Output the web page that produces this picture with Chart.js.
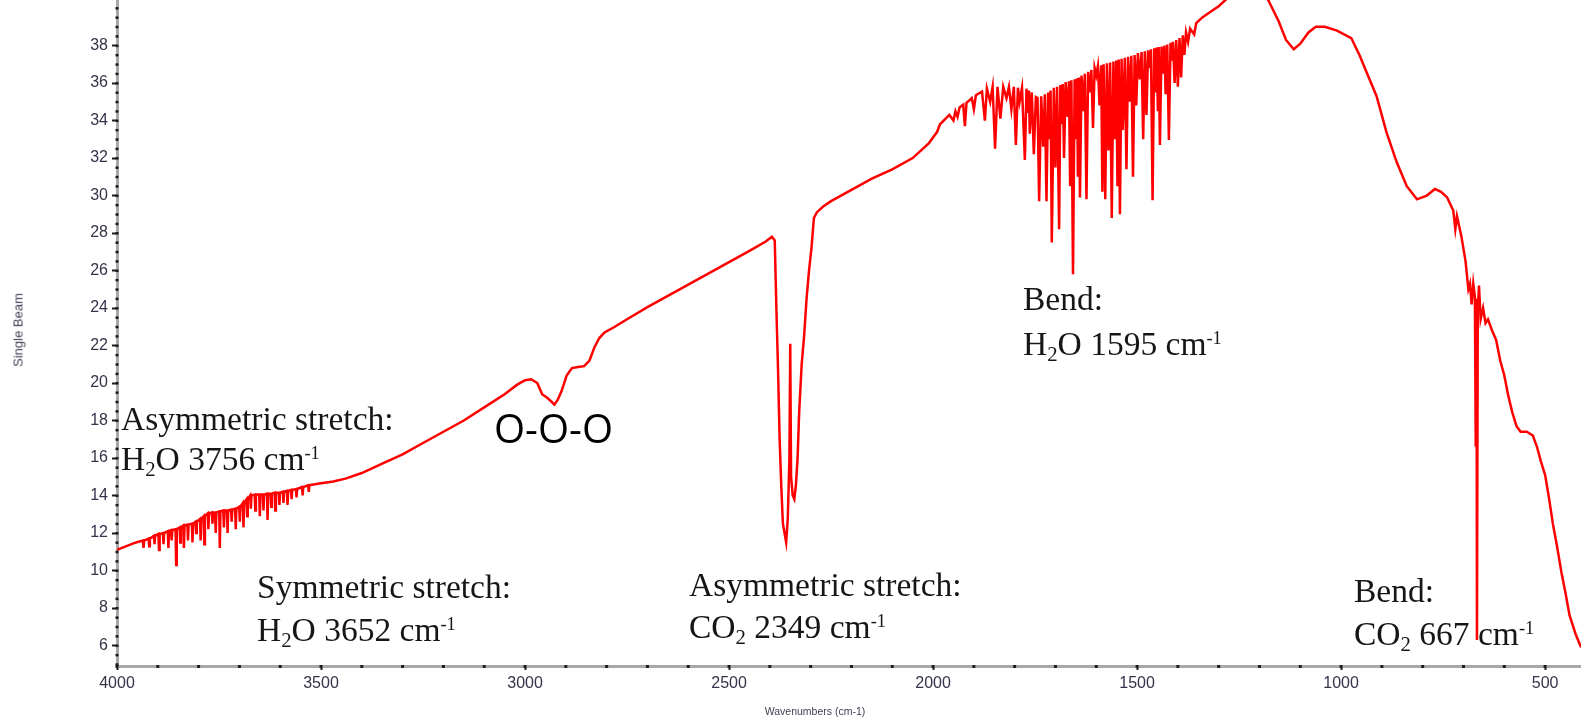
<!DOCTYPE html>
<html>
<head>
<meta charset="utf-8">
<title>Single Beam spectrum</title>
<script src="https://cdn.jsdelivr.net/npm/chart.js@4.4.0/dist/chart.umd.min.js"></script>
<style>
    html, body { margin: 0; padding: 0; background: #fff; }
    #wrap { position: relative; width: 1581px; height: 722px; overflow: hidden; }
    .note { position: absolute; font-family: "Liberation Serif", "Times New Roman", serif; font-size: 33.5px; line-height: 42px; color: #161616; white-space: nowrap; }
    .note sub { font-size: 0.62em; vertical-align: -0.28em; line-height: 0; }
    .note sup { font-size: 0.55em; vertical-align: 0.62em; line-height: 0; }
    .ooo { position: absolute; font-family: "Open Sans", sans-serif; font-size: 40px; line-height: 42px; color: #000; white-space: nowrap; }
    .axis-title { position: absolute; font-family: "Liberation Sans", Arial, sans-serif; color: #404058; white-space: nowrap; }
</style>
</head>
<body>
<div id="wrap">
    <canvas id="spectrumChart"></canvas>

    <div class="axis-title" style="left:18px; top:330px; font-size:13px; transform: translate(-50%, -50%) rotate(-90deg);">Single Beam</div>
    <div class="axis-title" style="left:815px; top:711px; font-size:10.5px; transform: translate(-50%, -50%);">Wavenumbers (cm-1)</div>

    <div class="note" style="left:121px; top:398px;">Asymmetric stretch:</div>
    <div class="note" style="left:121px; top:438px;">H<sub>2</sub>O 3756 cm<sup>-1</sup></div>

    <div class="note" style="left:257px; top:566px;">Symmetric stretch:</div>
    <div class="note" style="left:257px; top:609px;">H<sub>2</sub>O 3652 cm<sup>-1</sup></div>

    <div class="note" style="left:689px; top:564px;">Asymmetric stretch:</div>
    <div class="note" style="left:689px; top:606px;">CO<sub>2</sub> 2349 cm<sup>-1</sup></div>

    <div class="note" style="left:1023px; top:278px;">Bend:</div>
    <div class="note" style="left:1023px; top:323px;">H<sub>2</sub>O 1595 cm<sup>-1</sup></div>

    <div class="note" style="left:1354px; top:570px;">Bend:</div>
    <div class="note" style="left:1354px; top:613px;">CO<sub>2</sub> 667 cm<sup>-1</sup></div>

    <div class="ooo" style="left:494px; top:407px;">O-O-O</div>
</div>

<script>
// water stretch band, 4000-3400 (each absorption line: top, bottom, top)
var stretchWn = [4000, 3960, 3945,
    3936.5, 3935, 3933.5,  3922.5, 3921, 3919.5,  3909.5, 3908, 3906.5,  3898.5, 3897, 3895.5,
    3887.5, 3886, 3884.5,  3875.5, 3874, 3872.5,  3867.5, 3866, 3864.5,  3856.5, 3855, 3853.5,
    3846.5, 3845, 3843.5,  3837.5, 3836, 3834.5,  3827.5, 3826, 3824.5,  3816.5, 3815, 3813.5,
    3807.5, 3806, 3804.5,  3796.5, 3795, 3793.5,  3787.5, 3786, 3784.5,  3777.5, 3776, 3774.5,
    3767.5, 3766, 3764.5,  3759.5, 3758, 3756.5,  3749.5, 3748, 3746.5,  3739.5, 3738, 3736.5,
    3730.5, 3729, 3727.5,  3720.5, 3719, 3717.5,  3710.5, 3709, 3707.5,  3700.5, 3699, 3697.5,
    3691.5, 3690, 3688.5,  3682.5, 3681, 3679.5,  3673.5, 3672, 3670.5,  3662.5, 3661, 3659.5,
    3651.5, 3650, 3648.5,  3642.5, 3641, 3639.5,  3632.5, 3631, 3629.5,  3623.5, 3622, 3620.5,
    3613.5, 3612, 3610.5,  3603.5, 3602, 3600.5,  3593.5, 3592, 3590.5,  3583.5, 3582, 3580.5,
    3573.5, 3572, 3570.5,  3561.5, 3560, 3558.5,  3546.5, 3545, 3543.5,  3531.5, 3530, 3528.5,
    3515, 3500, 3470, 3440, 3400];
var stretchBeam = [11.1, 11.45, 11.55,
    11.6, 11.2, 11.6,  11.7, 11.3, 11.7,  11.85, 11.4, 11.85,  11.95, 11.1, 11.95,
    12.0, 11.4, 12.0,  12.1, 11.2, 12.1,  12.15, 11.6, 12.15,  12.2, 10.3, 12.2,
    12.3, 11.5, 12.3,  12.4, 11.2, 12.4,  12.45, 11.6, 12.45,  12.5, 11.5, 12.5,
    12.6, 12.0, 12.6,  12.75, 11.6, 12.75,  12.9, 11.4, 12.9,  13.05, 12.2, 13.05,
    13.1, 12.5, 13.1,  13.1, 12.0, 13.1,  13.15, 11.2, 13.15,  13.2, 12.3, 13.2,
    13.2, 12.0, 13.2,  13.25, 12.6, 13.25,  13.3, 12.2, 13.3,  13.4, 12.6, 13.4,
    13.6, 12.3, 13.6,  13.8, 12.9, 13.8,  14.0, 13.3, 14.0,  14.05, 13.2, 14.05,
    14.05, 12.9, 14.05,  14.05, 13.2, 14.05,  14.1, 12.7, 14.1,  14.1, 13.4, 14.1,
    14.15, 13.2, 14.15,  14.15, 13.5, 14.15,  14.2, 13.6, 14.2,  14.25, 13.5, 14.25,
    14.3, 13.8, 14.3,  14.35, 13.9, 14.35,  14.45, 14.0, 14.45,  14.55, 14.2, 14.55,
    14.6, 14.65, 14.75, 14.9, 15.2];

// smooth rise with the O-O-O dip, 3350-2395
var midWn = [3350,3300,3250,3200,3150,3100,3050,3020,3000,2985,2970,2958,2945,2935,2928,2920,2910,2898,2885,2870,
    2855,2842,2830,2818,2805,2780,2750,2700,2650,2600,2550,2500,2450,2410,2395];
var midBeam = [15.7,16.2,16.8,17.4,18.0,18.7,19.4,19.9,20.15,20.2,20.0,19.4,19.2,19.0,18.85,19.1,19.6,20.4,20.8,20.85,
    20.9,21.2,21.9,22.4,22.7,23.0,23.4,24.05,24.65,25.25,25.85,26.45,27.05,27.55,27.8];

// CO2 asymmetric stretch, 2388-1990
var co2Wn = [2388,2384,2380,2376,2372,2368,2364,2360,2356,2352,2350,2348,2344,2340,2336,2332,2328,2322,2316,2310,
    2304,2298,2292,2285,2270,2250,2200,2150,2100,2050,2010,1990];
var co2Beam = [27.6,24.0,20.8,17.0,14.5,12.5,12.0,11.5,12.8,16.0,22.1,15.0,14.0,13.8,14.6,16.0,18.5,21.0,22.5,24.5,
    26.0,27.2,28.8,29.1,29.4,29.7,30.3,30.9,31.4,32.0,32.8,33.4];

// water bend band, 1983-1355
var bendWn = [1983,1960,1950,1945,1940,1935,1926,1922,1918,1905,
    1900,1895,1880,1873,1868,1860,1854,1848,1842,1835,
    1828,1820,1814,1808,1802,1797,1792,1788,1782,1775,
    1771,1768,1765,1763,1758,1753,1748,1744,1740,1735,
    1730,1726,1722,1718,1715,1712,1709,1704,1700,1696,
    1691,1688,1685,1682,1679,1675,1670,1667,1664,1661,
    1657,1653,1650,1647,1645,1642,1640,1636,1632,1628,
    1624,1620,1616,1612,1608,1604,1600,1596,1592,1588,
    1585,1582,1578,1574,1570,1566,1562,1558,1554,1551,
    1548,1545,1542,1538,1535,1530,1526,1522,1518,1514,
    1510,1506,1502,1498,1493,1489,1485,1481,1477,1473,
    1470,1466,1462,1458,1455,1452,1449,1447,1444,1440,
    1436,1433,1430,1426,1422,1418,1415,1412,1408,1404,
    1400,1396,1392,1388,1384,1380,1375,1370,1360,1355];
var bendBeam = [33.8,34.3,34.0,34.5,34.2,34.7,34.85,33.7,34.95,35.2,
    34.6,35.35,35.55,34.0,35.7,35.0,35.8,32.5,35.8,34.1,
    35.8,35.2,35.8,34.6,35.8,32.7,35.75,35.0,35.75,31.9,
    35.7,34.4,35.6,33.3,35.5,32.2,35.25,35.2,29.7,35.3,
    32.6,35.4,29.7,35.5,33.0,35.6,27.5,35.75,31.5,35.8,
    28.2,35.9,33.8,35.95,32.0,36.05,34.2,36.1,30.5,36.15,
    25.8,36.2,33.0,36.25,31.0,36.3,29.9,36.4,34.5,36.5,
    29.8,36.6,35.5,36.7,33.6,36.8,36.4,36.9,34.8,36.95,
    30.2,37.0,29.8,37.05,32.4,37.1,28.8,37.15,33.0,37.2,
    30.5,37.25,29.0,37.3,33.5,37.35,31.4,37.4,35.0,37.45,
    31.0,37.5,34.8,37.6,36.2,37.65,33.0,37.7,34.3,37.75,
    36.8,37.8,29.75,37.85,35.5,37.9,34.5,37.92,32.7,37.95,
    36.5,38.0,35.4,38.05,32.96,38.15,37.2,38.2,36.0,38.3,
    35.8,38.4,36.3,38.55,37.5,38.7,38.2,38.9,38.6,39.2];

// peak, fall off and CO2 bend, 1340-412
var lowWn = [1340,1320,1300,1280,1250,1220,1190,1178,1153,1135,
    1116,1100,1080,1062,1040,1010,975,955,938,913,
    889,864,839,814,790,770,755,740,725,720,
    716,705,695,688,684,680,676,672,670,668,
    667,665,662,658,652,646,640,630,620,610,
    600,590,580,570,560,545,530,520,510,500,
    490,481,470,460,450,440,425,412];
var lowBeam = [39.5,39.8,40.1,40.5,41.0,41.0,40.8,40.4,39.3,38.3,
    37.8,38.1,38.7,39.0,39.0,38.8,38.4,37.5,36.6,35.3,
    33.4,31.8,30.5,29.8,30.0,30.35,30.2,29.9,29.2,28.2,
    28.9,27.8,26.5,25.0,25.3,24.2,25.3,24.6,16.6,24.5,
    6.3,23.8,25.2,23.4,24.0,23.2,23.4,22.8,22.3,21.2,
    20.4,19.3,18.4,17.7,17.4,17.4,17.2,16.6,15.8,15.1,
    13.8,12.5,11.2,9.9,8.8,7.6,6.6,5.9];

var xTickValues = [4000, 3500, 3000, 2500, 2000, 1500, 1000, 500];
var yTickValues = [6, 8, 10, 12, 14, 16, 18, 20, 22, 24, 26, 28, 30, 32, 34, 36, 38];
var xMinorStep = 100;
var yMinorStep = 0.5;

document.addEventListener("DOMContentLoaded", function() {
    var wavenumbers = stretchWn.concat(midWn, co2Wn, bendWn, lowWn);
    var singleBeam = stretchBeam.concat(midBeam, co2Beam, bendBeam, lowBeam);
    var points = wavenumbers.map(function(w, i) { return { x: w, y: singleBeam[i] }; });

    // little dots along both axis lines
    var minorTicks = {
        id: "minorTicks",
        afterDraw: function(chart) {
            var ctx = chart.ctx;
            var xs = chart.scales.x, ys = chart.scales.y;
            var area = chart.chartArea;
            ctx.save();
            ctx.fillStyle = "#1c1c1c";
            for (var w = 500; w <= 4000; w += xMinorStep) {
                var px = xs.getPixelForValue(w);
                if (px < area.left - 1 || px > area.right) continue;
                ctx.fillRect(px - 1.5, area.bottom - 1, 3, 3);
            }
            for (var v = 5; v <= 40.5; v += yMinorStep) {
                var py = ys.getPixelForValue(v);
                if (py < area.top || py > area.bottom + 1) continue;
                ctx.fillRect(area.left - 1.5, py - 1, 3, 2.5);
            }
            ctx.restore();
        }
    };

    var plainLabel = function(value) { return String(value); };

    var ctx = document.getElementById("spectrumChart").getContext("2d");
    new Chart(ctx, {
        type: "line",
        data: {
            datasets: [{
                label: "Single Beam",
                data: points,
                borderColor: "#ff0000",
                borderWidth: 2.5,
                pointRadius: 0,
                tension: 0,
                fill: false
            }]
        },
        options: {
            responsive: true,
            maintainAspectRatio: false,
            animation: false,
            layout: { padding: 0 },
            plugins: {
                legend: { display: false },
                tooltip: { enabled: false }
            },
            scales: {
                x: {
                    type: "linear",
                    reverse: true,
                    min: 412,
                    max: 4000,
                    afterBuildTicks: function(scale) {
                        scale.ticks = xTickValues.map(function(v) { return { value: v }; });
                    },
                    afterFit: function(scale) { scale.height = 56; },
                    border: { display: true, color: "#a8a8a8", width: 3 },
                    grid: { drawOnChartArea: false, tickLength: 4, tickColor: "#1c1c1c", tickWidth: 2 },
                    ticks: {
                        autoSkip: false,
                        maxRotation: 0,
                        padding: 4,
                        color: "#33334a",
                        callback: plainLabel,
                        font: { family: "'Liberation Sans', Arial, sans-serif", size: 16 }
                    }
                },
                y: {
                    min: 4.907,
                    max: 40.43,
                    afterBuildTicks: function(scale) {
                        scale.ticks = yTickValues.map(function(v) { return { value: v }; });
                    },
                    afterFit: function(scale) {
                        scale.width = 117;
                        scale.paddingTop = 0;
                        scale.paddingBottom = 0;
                    },
                    border: { display: true, color: "#a8a8a8", width: 3 },
                    grid: { drawOnChartArea: false, tickLength: 5, tickColor: "#1c1c1c", tickWidth: 2 },
                    ticks: {
                        padding: 4,
                        color: "#33334a",
                        callback: plainLabel,
                        font: { family: "'Liberation Sans', Arial, sans-serif", size: 16 }
                    }
                }
            }
        },
        plugins: [minorTicks]
    });
});
</script>
</body>
</html>
